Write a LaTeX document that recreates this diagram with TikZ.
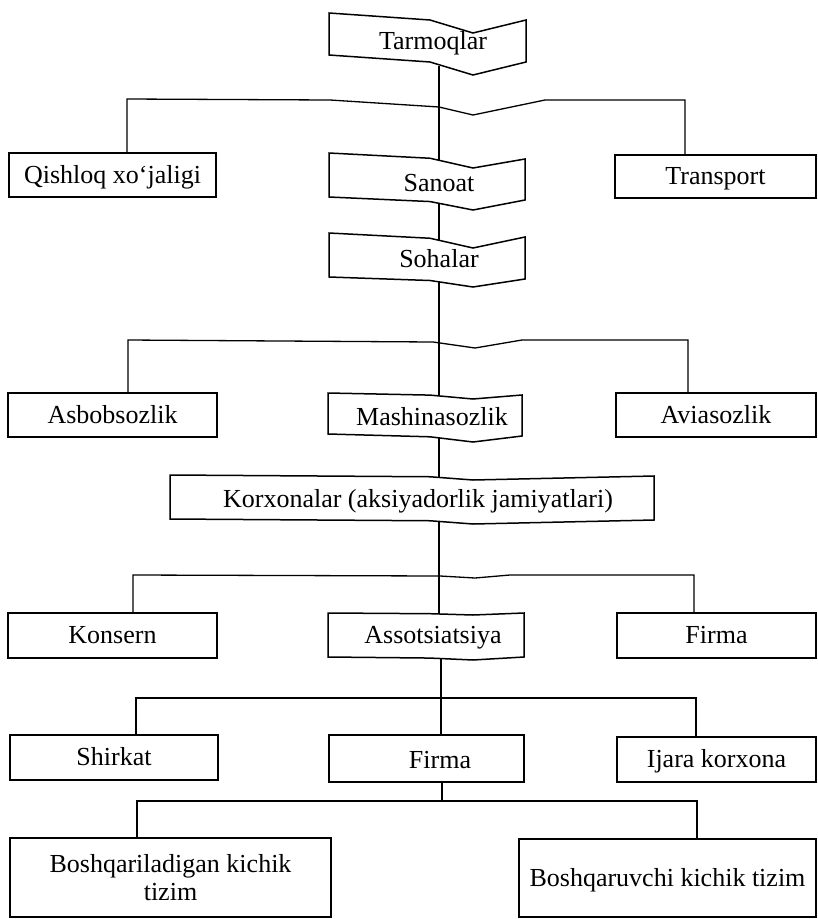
\documentclass[tikz,border=0pt]{standalone}
\usepackage{fontspec}
\setmainfont{Liberation Serif}
\newcommand{\wbox}[8]{%
  \draw[wline] (#1,#3) -- (430,{#3+0.35*(#4-#3)}) -- (473,#4) -- (#2,#5)
    -- (#2,#8) -- (473,#7) -- (430,{#6+0.35*(#7-#6)}) -- (#1,#6) -- cycle;}
\begin{document}
\begin{tikzpicture}[x=1pt,y=-1pt,
  box/.style={draw, fill=white, inner sep=0pt, line width=1.5pt,
    font=\fontsize{26}{30}\selectfont, text height=20pt, text depth=4pt},
  box2/.style={draw, fill=white, inner sep=0pt, line width=1.5pt,
    font=\fontsize{26}{30}\selectfont},
  wline/.style={draw, fill=white, line width=1.5pt, line join=miter},
  lbl/.style={font=\fontsize{26}{30}\selectfont, inner sep=0pt, text height=18pt, text depth=6pt},
  conn/.style={line width=1.3pt}]
\useasboundingbox (0,0) rectangle (818,919);

% connector coordinates
\coordinate (tarS) at (439,66);
\coordinate (sanN) at (439,162);
\coordinate (sanS) at (439,204);
\coordinate (sohN) at (439,240);
\coordinate (sohS) at (439,282);
\coordinate (mashN) at (439,396);
\coordinate (mashS) at (439,437);
\coordinate (korN) at (439,478);
\coordinate (korS) at (439,521);
\coordinate (assN) at (439,614);
\coordinate (assS) at (441,657);
\coordinate (b0L) at (127,99);
\coordinate (b0R) at (685,100);
\coordinate (b1L) at (128,340);
\coordinate (b1R) at (688,340);
\coordinate (b2L) at (133,575);
\coordinate (b2R) at (694,575);
\coordinate (b3L) at (136,698);
\coordinate (b3R) at (696,698);
\coordinate (b4C) at (442,801);
\coordinate (b4L) at (137,801);
\coordinate (b4R) at (697,801);

% rectangular boxes
\node[box, minimum width=207pt, minimum height=44pt] (qish) at (112.5,175) {Qishloq xo‘jaligi};
\node[box, minimum width=201pt, minimum height=43pt] (trans) at (715.5,176.5) {Transport};
\node[box, minimum width=209pt, minimum height=44pt] (asbob) at (112.5,415) {Asbobsozlik};
\node[box, minimum width=200pt, minimum height=44pt] (avia) at (716,415) {Aviasozlik};
\node[box, minimum width=209pt, minimum height=45pt] (kons) at (112.5,635.5) {Konsern};
\node[box, minimum width=199pt, minimum height=45pt] (firmaR) at (716.5,635.5) {Firma};
\node[box, minimum width=208pt, minimum height=45pt] (shir) at (114,757.5) {Shirkat};
\node[box, minimum width=195pt, minimum height=47pt] (firmaM) at (426.5,758.5) {};
\node[lbl] (firmaMt) at (440,762) {Firma};
\node[box, minimum width=199pt, minimum height=45pt] (ijara) at (716.5,759.5) {Ijara korxona};
\node[box2, minimum width=321pt, minimum height=79pt, align=center] (bqk) at (170.5,877.5)
  {Boshqariladigan kichik\\[-2pt] tizim};
\node[box, minimum width=297pt, minimum height=78pt] (bqv) at (667.5,878) {Boshqaruvchi kichik tizim};

% connectors
\draw[conn] (tarS) -- (sanN);
\draw[conn] (qish.north -| b0L) -- (b0L) -- (330,100) -- (439,107) -- (473,115) -- (545,100) -- (b0R) -- (b0R |- trans.north);
\draw[conn] (sanS) -- (sohN);
\draw[conn] (sohS) -- (mashN);
\draw[conn] (asbob.north -| b1L) -- (b1L) -- (433,342) -- (475,348) -- (522,340) -- (b1R) -- (b1R |- avia.north);
\draw[conn] (mashS) -- (korN);
\draw[conn] (korS) -- (assN);
\draw[conn] (kons.north -| b2L) -- (b2L) -- (440,576) -- (475,578) -- (510,575) -- (b2R) -- (b2R |- firmaR.north);
\draw[conn] (assS) -- (firmaM.north -| assS);
\draw[conn] (shir.north -| b3L) -- (b3L) -- (b3R) -- (b3R |- ijara.north);
\draw[conn] (firmaM.south -| b4C) -- (b4C);
\draw[conn] (bqk.north -| b4L) -- (b4L) -- (b4R) -- (b4R |- bqv.north);

% wave boxes
\wbox{329}{526}{13}{33}{20}{55}{75}{62}
\node[lbl] (tar) at (433,43) {Tarmoqlar};
\wbox{329}{525}{153}{168}{159}{197}{210}{200}
\node[lbl] (san) at (439,185) {Sanoat};
\wbox{329}{525}{233}{248}{237}{277}{287}{279}
\node[lbl] (soh) at (439,261) {Sohalar};
\wbox{328}{522}{393}{399}{395}{434}{442}{436}
\node[lbl] (mash) at (432,419) {Mashinasozlik};
\wbox{170}{654}{475}{480}{476}{519}{524}{520}
\node[lbl] (korx) at (418,501) {Korxonalar (aksiyadorlik jamiyatlari)};
\wbox{328}{524}{613}{615}{613}{657}{660}{657}
\node[lbl] (assot) at (433,637) {Assotsiatsiya};
\end{tikzpicture}
\end{document}
